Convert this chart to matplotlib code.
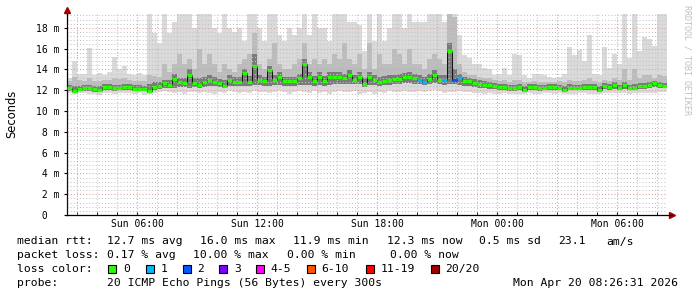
import matplotlib
matplotlib.use('Agg')
import matplotlib.pyplot as plt
from matplotlib.patches import Rectangle
import numpy as np

# smokeping style latency graph, 15 min bins starting Sun 02:30
start_hour = 2.5
bin_hours = 0.25

median = [
    12.2, 11.95, 12.1, 12.2, 12.2, 12.1, 12.05, 12.3, 12.35, 12.2,
    12.25, 12.3, 12.3, 12.15, 12.15, 12.15, 11.9, 12.35, 12.45, 12.65,
    12.55, 13.1, 12.75, 12.7, 13.5, 12.7, 12.5, 12.8, 13.0, 12.8,
    12.7, 12.45, 13.0, 12.8, 12.8, 13.65, 12.8, 14.3, 13.0, 12.85,
    13.9, 13.0, 13.3, 12.85, 12.85, 12.85, 13.15, 14.5, 13.3, 12.85,
    13.3, 12.9, 13.3, 13.3, 13.3, 13.15, 13.45, 13.0, 13.3, 12.6,
    13.3, 13.0, 12.8, 12.9, 13.0, 13.05, 13.1, 13.25, 13.3, 13.2,
    13.0, 12.8, 13.1, 13.45, 13.0, 13.0, 15.75, 13.0, 13.15, 12.9,
    12.85, 12.7, 12.6, 12.55, 12.5, 12.4, 12.3, 12.3, 12.2, 12.2,
    12.3, 12.05, 12.3, 12.3, 12.2, 12.25, 12.3, 12.3, 12.25, 12.05,
    12.25, 12.25, 12.25, 12.35, 12.35, 12.35, 12.05, 12.4, 12.3, 12.5,
    12.25, 12.55, 12.25, 12.25, 12.4, 12.4, 12.55, 12.7, 12.5, 12.45]

smoke_max = [
    13.2, 14.8, 13.6, 13.6, 16.1, 13.5, 13.7, 13.5, 13.8, 15.2,
    14.0, 14.3, 13.6, 13.5, 13.7, 13.5, 19.3, 17.5, 16.5, 19.3,
    17.5, 18.6, 19.3, 19.3, 19.3, 18.0, 19.3, 19.3, 19.3, 18.0,
    17.5, 19.3, 18.0, 17.6, 18.0, 16.7, 19.3, 19.3, 18.0, 16.7,
    19.3, 19.3, 17.3, 16.7, 18.0, 17.3, 18.0, 19.3, 17.3, 19.3,
    18.0, 18.0, 16.7, 19.3, 19.3, 19.3, 18.6, 18.6, 18.3, 15.8,
    19.3, 16.7, 19.3, 16.7, 18.0, 19.3, 19.3, 18.0, 19.3, 18.6,
    18.6, 18.6, 19.3, 19.3, 19.3, 18.6, 19.3, 19.3, 17.3, 15.4,
    15.1, 14.5, 14.5, 14.1, 14.0, 13.5, 13.6, 14.1, 13.5, 15.5,
    15.4, 13.5, 13.2, 13.6, 13.6, 13.5, 13.3, 13.2, 13.3, 13.6,
    16.2, 15.4, 15.9, 14.8, 17.3, 13.6, 13.5, 16.2, 14.1, 15.5,
    14.5, 19.3, 15.1, 19.3, 15.8, 17.1, 16.9, 16.3, 19.3, 19.3]

smoke_p90 = [
    12.9, 13.3, 13.0, 12.9, 13.2, 12.9, 12.9, 13.0, 13.0, 13.2,
    13.1, 13.2, 13.0, 12.9, 12.9, 12.9, 13.5, 13.4, 13.3, 14.5,
    13.8, 14.5, 15.5, 14.5, 15.0, 14.0, 16.0, 14.5, 15.5, 14.5,
    13.8, 14.5, 14.0, 13.8, 14.5, 15.0, 15.5, 17.5, 14.5, 14.0,
    15.0, 16.5, 14.5, 14.0, 14.0, 14.5, 15.0, 16.5, 14.5, 15.0,
    14.5, 15.0, 14.5, 15.5, 15.0, 16.5, 15.0, 14.5, 15.5, 14.0,
    16.5, 14.0, 15.5, 14.5, 14.5, 16.0, 15.5, 14.5, 16.0, 14.5,
    14.5, 14.0, 15.0, 15.5, 15.0, 14.5, 19.3, 19.0, 14.5, 13.8,
    13.5, 13.5, 13.3, 13.2, 13.2, 13.0, 12.9, 13.0, 12.8, 13.0,
    13.0, 12.8, 12.8, 12.9, 12.8, 12.8, 12.8, 12.8, 12.9, 12.8,
    13.0, 12.9, 12.9, 13.0, 13.2, 12.9, 12.8, 13.0, 12.9, 13.2,
    13.0, 14.0, 13.0, 14.0, 13.2, 13.5, 13.5, 13.2, 13.5, 13.4]

smoke_p75 = [
    12.5, 12.4, 12.4, 12.5, 12.5, 12.4, 12.4, 12.6, 12.6, 12.5,
    12.5, 12.6, 12.6, 12.5, 12.5, 12.4, 12.6, 12.8, 12.8, 13.0,
    13.0, 13.6, 13.2, 13.2, 14.0, 13.2, 13.2, 13.3, 13.5, 13.3,
    13.1, 13.0, 13.5, 13.3, 13.3, 14.0, 13.4, 15.5, 13.5, 13.3,
    14.3, 13.5, 13.8, 13.3, 13.3, 13.3, 13.6, 15.0, 13.8, 13.4,
    13.8, 13.4, 13.8, 13.8, 13.8, 13.6, 13.9, 13.5, 13.8, 13.2,
    13.8, 13.5, 13.3, 13.4, 13.5, 13.5, 13.6, 13.7, 13.8, 13.6,
    13.5, 13.3, 13.6, 13.9, 13.5, 13.5, 16.5, 14.0, 13.6, 13.3,
    13.2, 13.1, 13.0, 12.9, 12.8, 12.7, 12.6, 12.6, 12.5, 12.5,
    12.6, 12.4, 12.6, 12.6, 12.5, 12.5, 12.6, 12.6, 12.5, 12.4,
    12.6, 12.5, 12.5, 12.6, 12.6, 12.6, 12.4, 12.7, 12.6, 12.8,
    12.5, 12.8, 12.5, 12.6, 12.7, 12.7, 12.8, 12.9, 12.8, 12.7]

smoke_p10 = [
    11.95, 11.8, 11.9, 11.95, 11.95, 11.85, 11.8, 12.0, 12.05, 11.95,
    12.0, 12.0, 12.0, 11.9, 11.9, 11.9, 11.75, 12.05, 12.1, 12.2,
    12.2, 12.2, 12.3, 12.3, 12.2, 12.3, 12.2, 12.3, 12.4, 12.4,
    12.3, 12.2, 12.4, 12.4, 12.4, 12.4, 12.4, 12.5, 12.5, 12.4,
    12.4, 12.5, 12.5, 12.4, 12.4, 12.4, 12.5, 12.5, 12.5, 12.4,
    12.5, 12.4, 12.5, 12.6, 12.6, 12.6, 12.6, 12.6, 12.6, 12.3,
    12.5, 12.5, 12.4, 12.5, 12.5, 12.6, 12.6, 12.7, 12.7, 12.6,
    12.6, 12.5, 12.6, 12.7, 12.6, 12.5, 12.6, 12.6, 12.5, 12.4,
    12.4, 12.3, 12.2, 12.2, 12.1, 12.1, 12.0, 12.0, 11.95, 11.95,
    12.0, 11.85, 12.0, 12.0, 11.95, 12.0, 12.0, 12.0, 12.0, 11.85,
    12.0, 12.0, 12.0, 12.05, 12.05, 12.05, 11.85, 12.1, 12.0, 12.1,
    12.0, 12.15, 12.0, 12.0, 12.1, 12.1, 12.2, 12.3, 12.2, 12.2]

smoke_min = [
    11.7, 11.6, 11.7, 11.7, 11.6, 11.6, 11.5, 11.7, 11.7, 11.6,
    11.7, 11.7, 11.7, 11.6, 11.7, 11.5, 11.6, 11.7, 11.8, 11.9,
    11.8, 11.7, 11.8, 11.6, 11.8, 11.8, 11.7, 11.8, 11.7, 11.6,
    11.8, 11.7, 11.9, 11.8, 11.7, 11.8, 11.7, 11.9, 11.8, 11.8,
    11.7, 11.8, 11.9, 11.8, 11.6, 11.8, 11.9, 11.8, 11.7, 11.9,
    11.7, 11.8, 11.6, 11.8, 11.9, 11.8, 11.8, 11.9, 11.6, 11.7,
    11.8, 11.6, 11.8, 11.7, 11.9, 11.8, 11.8, 11.9, 11.8, 11.8,
    11.9, 11.8, 11.9, 12.0, 11.9, 11.7, 11.8, 11.8, 11.9, 11.8,
    11.8, 11.7, 11.7, 11.6, 11.7, 11.6, 11.6, 11.7, 11.6, 11.6,
    11.6, 11.6, 11.7, 11.6, 11.6, 11.7, 11.7, 11.6, 11.7, 11.6,
    11.6, 11.6, 11.7, 11.7, 11.6, 11.6, 11.6, 11.7, 11.7, 11.7,
    11.7, 11.7, 11.6, 11.7, 11.7, 11.7, 11.7, 11.7, 11.8, 11.8]

# loss class per bin (index into loss_labels)
loss = [
    0, 0, 0, 0, 0, 0, 0, 0, 0, 0,
    0, 0, 0, 0, 0, 0, 0, 0, 0, 0,
    0, 0, 0, 0, 0, 0, 0, 0, 0, 0,
    0, 0, 0, 0, 0, 0, 0, 0, 0, 0,
    0, 0, 0, 0, 0, 0, 0, 0, 0, 0,
    0, 0, 0, 0, 0, 0, 0, 0, 0, 0,
    0, 0, 0, 0, 0, 0, 0, 0, 0, 0,
    1, 1, 0, 0, 0, 1, 0, 2, 1, 0,
    0, 0, 0, 0, 0, 0, 0, 0, 0, 0,
    0, 0, 0, 0, 0, 0, 0, 0, 0, 0,
    0, 0, 0, 0, 0, 0, 0, 0, 0, 0,
    0, 0, 0, 0, 0, 0, 0, 0, 0, 0]

loss_labels = ['0', '1', '2', '3', '4-5', '6-10', '11-19', '20/20']
loss_colors = ['#26ff00', '#00b8ff', '#0059ff', '#7e00ff', '#ff00ff',
               '#ff5500', '#ff0000', '#a10000']

tick_hours = [6, 12, 18, 24, 30]
tick_labels = ['Sun 06:00', 'Sun 12:00', 'Sun 18:00', 'Mon 00:00', 'Mon 06:00']
ytick_vals = [0, 2, 4, 6, 8, 10, 12, 14, 16, 18]
ytick_labels = [' 0', ' 2 m', ' 4 m', ' 6 m', ' 8 m', '10 m', '12 m', '14 m', '16 m', '18 m']

rtt_text = ['12.7 ms avg', '16.0 ms max', '11.9 ms min', '12.3 ms now', '0.5 ms sd', '23.1', 'am/s']
loss_text = ['0.17 % avg', '10.00 % max', '0.00 % min', '0.00 % now']
probe_text = '20 ICMP Echo Pings (56 Bytes) every 300s'
stamp_text = 'Mon Apr 20 08:26:31 2026'

W, H = 697, 297
mono = 'DejaVu Sans Mono'

fig = plt.figure(figsize=(W / 100, H / 100), dpi=100)
ax = fig.add_axes([67 / W, 82 / H, 600 / W, 201 / H])

n = len(median)
edges = start_hour + bin_hours * np.arange(n + 1)

# smoke layers, light to dark
ax.stairs(smoke_max, edges, baseline=smoke_min, fill=True, color='#dadada', lw=0, zorder=1)
ax.stairs(smoke_p90, edges, baseline=smoke_p10, fill=True, color='#bcbcbc', lw=0, zorder=1.1)
ax.stairs(smoke_p75, edges, baseline=smoke_p10, fill=True, color='#7a7a7a', lw=0, zorder=1.2)

# grid (between smoke and median line)
for h in range(3, 33):
    if h % 3:
        ax.axvline(h, color='#c4c4c4', lw=0.75, ls=(0, (1, 2)), zorder=1.5)
for v in np.arange(0.4, 19.3, 0.4):
    if abs(v / 2 - round(v / 2)) > 0.01:
        ax.axhline(v, color='#c4c4c4', lw=0.75, ls=(0, (1, 2)), zorder=1.5)
for h in range(3, 33, 3):
    ax.axvline(h, color='#e89a9a', lw=0.75, ls=(0, (1, 2)), zorder=1.6)
for v in ytick_vals[1:]:
    ax.axhline(v, color='#e89a9a', lw=0.75, ls=(0, (1, 2)), zorder=1.6)

# median line
ax.stairs(median, edges, color='#111111', lw=0.7, zorder=3)
ax.hlines(median, edges[:-1], edges[1:], colors=[loss_colors[k] for k in loss],
          lw=2.3, zorder=4, capstyle='butt')

ax.set_xlim(2.5, 32.5)
ax.set_ylim(0, 19.33)

for s in ['top', 'right']:
    ax.spines[s].set_visible(False)
ax.spines['left'].set_linewidth(0.9)
ax.spines['bottom'].set_linewidth(0.9)
ax.spines['bottom'].set_bounds(2.45, 32.75)

ax.set_xticks(tick_hours)
ax.set_xticklabels(tick_labels, family=mono, fontsize=7)
ax.set_xticks(range(3, 33), minor=True)
ax.tick_params(axis='x', which='major', length=2, width=0.8, direction='in', pad=3)
ax.tick_params(axis='x', which='minor', length=2, width=0.6, direction='in')

ax.set_yticks(ytick_vals)
ax.set_yticklabels(ytick_labels, family=mono, fontsize=7)
for lab in ax.get_yticklabels():
    lab.set_horizontalalignment('left')
ax.tick_params(axis='y', which='major', length=2.5, width=0.8, direction='out', pad=19.5)

# axis arrows
ax.plot([0, 0], [1, 1.02], color='black', lw=0.9, transform=ax.transAxes, clip_on=False)
ax.plot([0], [1.02], marker='^', ms=4, color='#a00000', transform=ax.transAxes, clip_on=False)
ax.plot([1.0085], [0], marker='>', ms=4, color='#a00000', transform=ax.transAxes, clip_on=False)

fig.text(12 / W, 1 - 114 / H, 'Seconds', rotation=90, ha='center', va='center',
         fontsize=8.3, family='DejaVu Sans')
fig.text(687 / W, 1 - 60 / H, 'RRDTOOL / TOBI OETIKER', rotation=270, ha='center',
         va='center', fontsize=6, family=mono, color='#c0c0c0')

# legend block
def ftext(x, y, s):
    fig.text(x / W, 1 - y / H, s, ha='left', va='center', fontsize=8.2, family=mono)

row_y = [241.5, 255.5, 269, 283]
ftext(16.7, row_y[0], 'median rtt:')
for x, s in zip([107.3, 200, 293.3, 386.7, 479.3, 558.3, 606.7], rtt_text):
    ftext(x, row_y[0], s)
ftext(16.7, row_y[1], 'packet loss:')
for x, s in zip([107.3, 193.3, 286.7, 390], loss_text):
    ftext(x, row_y[1], s)
ftext(16.7, row_y[2], 'loss color:')
for x, s, c in zip([108.3, 145.7, 182.7, 219.3, 256, 306.7, 365.7, 430.7], loss_labels, loss_colors):
    fig.patches.append(Rectangle((x / W, 1 - (row_y[2] + 4) / H), 8 / W, 8 / H,
                                 transform=fig.transFigure, facecolor=c,
                                 edgecolor='black', lw=0.8))
    ftext(x + 14.5, row_y[2], s)
ftext(16.7, row_y[3], 'probe:')
ftext(107.3, row_y[3], probe_text)
ftext(512.7, row_y[3], stamp_text)

fig.savefig('out.png', dpi=100)
